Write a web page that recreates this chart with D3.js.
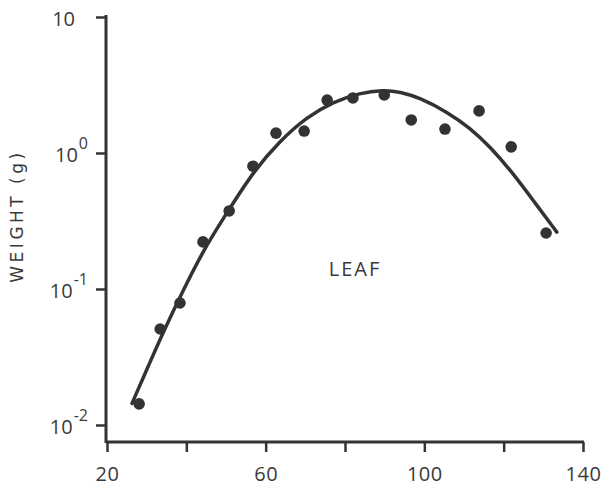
<!DOCTYPE html>
<html>
<head>
<meta charset="utf-8">
<script src="https://cdn.jsdelivr.net/npm/d3@7"></script>
<style>
  html, body { margin: 0; padding: 0; background: #fff; }
  svg { display: block; }
  text { font-family: "Open Sans", "Lato", sans-serif; fill: #3a3a3a; }
</style>
</head>
<body>
<svg id="chart" width="614" height="489"></svg>
<script>
// Observed data points (age in days, leaf weight in g)
const pointDays   = [28.1, 33.4, 38.4, 44.2, 50.8, 56.8, 62.6, 69.7, 75.5, 82.0, 89.9, 96.7, 105.2, 113.8, 121.9, 130.7];
const pointWeight = [0.0143, 0.0508, 0.0789, 0.222, 0.375, 0.80, 1.40, 1.45, 2.45, 2.54, 2.67, 1.75, 1.50, 2.04, 1.11, 0.258];

// Fitted curve
const curveDays   = [26.3, 30.8, 34.6, 39.2, 44.7, 51.0, 56.8, 63.6, 70.4, 77.0, 83.8, 89.6, 93.9, 98.9, 105.7, 111.5, 116.6, 122.3, 127.4, 133.4];
const curveWeight = [0.0144, 0.0288, 0.0513, 0.0978, 0.203, 0.393, 0.724, 1.23, 1.84, 2.38, 2.77, 2.91, 2.82, 2.54, 2.01, 1.53, 1.11, 0.712, 0.450, 0.262];

// Axis ticks
const xTicks = [20, 40, 60, 80, 100, 120, 140];
const xTickLabels = ["20", "", "60", "", "100", "", "140"];
const yTicks = [10, 1, 0.1, 0.01];
const yTickBase = ["10", "10", "10", "10"];
const yTickExp  = ["", "0", "-1", "-2"];

const yLabel = "WEIGHT (g)";
const panelLabel = "LEAF";

const svg = d3.select("#chart");
const ink = "#333";
const textInk = "#3c3c3c";

const x = d3.scaleLinear().domain([20, 140]).range([107, 583]);
const y = d3.scaleLog().domain([Math.pow(10, -2.125), 10]).range([442, 17]);

// X axis
const xAxis = d3.axisBottom(x).tickValues(xTicks).tickSize(10).tickPadding(15)
  .tickFormat((d, i) => xTickLabels[i]);
const gx = svg.append("g").attr("transform", "translate(0,442)").call(xAxis);
gx.select(".domain").attr("stroke", ink).attr("stroke-width", 3)
  .attr("d", "M106,0H584");
gx.selectAll(".tick line").attr("stroke", ink).attr("stroke-width", 2.5);
gx.selectAll(".tick text").attr("font-size", 20).attr("fill", textInk)
  .style("font-family", "'Open Sans', sans-serif")
  .attr("letter-spacing", 0.5);

// Y axis
const yAxis = d3.axisLeft(y).tickValues(yTicks).tickSize(10).tickFormat("");
const gy = svg.append("g").attr("transform", "translate(106,0)").call(yAxis);
gy.select(".domain").attr("stroke", ink).attr("stroke-width", 3)
  .attr("d", "M0,15V443");
gy.selectAll(".tick line").attr("stroke", ink).attr("stroke-width", 2.5);

// Y tick labels with superscripts
gy.selectAll(".tick").each(function(d, i) {
  const t = d3.select(this).append("text")
    .attr("y", 8)
    .attr("text-anchor", "end")
    .attr("font-size", 20)
    .attr("fill", textInk)
    .style("font-family", "'Open Sans', sans-serif");
  if (yTickExp[i]) {
    t.attr("x", -18);
    t.append("tspan").text(yTickBase[i]);
    t.append("tspan").attr("dy", -13).attr("dx", 1).attr("font-size", 16).text(yTickExp[i]);
  } else {
    t.attr("x", -31).text(yTickBase[i]);
  }
});

// Y axis title
svg.append("text")
  .attr("transform", "translate(23,216) rotate(-90)")
  .attr("text-anchor", "middle")
  .attr("font-size", 17)
  .attr("letter-spacing", 3.5)
  .attr("fill", "#4a4a4a")
  .style("font-family", "'DejaVu Sans', sans-serif")
  .text(yLabel);

// Panel label
svg.append("text")
  .attr("x", 355).attr("y", 276)
  .attr("text-anchor", "middle")
  .attr("font-size", 20)
  .attr("letter-spacing", 2)
  .attr("fill", "#4a4a4a")
  .text(panelLabel);

// Curve
const curveData = curveDays.map((d, i) => [d, curveWeight[i]]);
const line = d3.line().x(d => x(d[0])).y(d => y(d[1])).curve(d3.curveBasis);
svg.append("path").datum(curveData)
  .attr("d", line)
  .attr("fill", "none")
  .attr("stroke", ink)
  .attr("stroke-width", 3.5)
  .attr("stroke-linecap", "round");

// Points
const pts = pointDays.map((d, i) => [d, pointWeight[i]]);
svg.append("g").selectAll("circle").data(pts).join("circle")
  .attr("cx", d => x(d[0]))
  .attr("cy", d => y(d[1]))
  .attr("r", 5.8)
  .attr("fill", ink);
</script>
</body>
</html>
